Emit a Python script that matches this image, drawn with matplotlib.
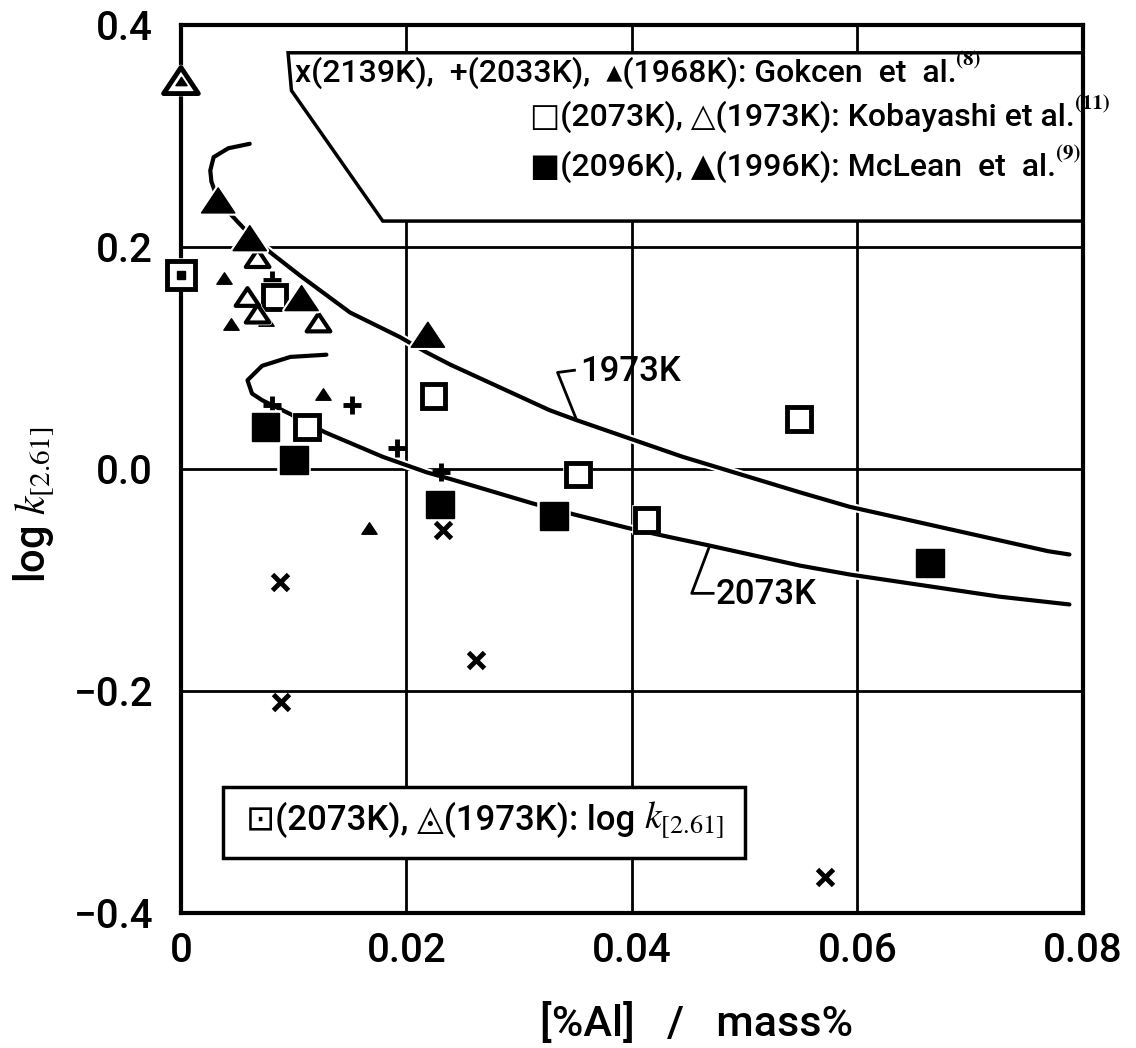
import matplotlib
matplotlib.use('Agg')
import matplotlib.pyplot as plt
import matplotlib.patheffects as pe
from matplotlib.patches import Polygon
from matplotlib.path import Path

plt.rcParams['font.family'] = ['Roboto', 'DejaVu Sans']
plt.rcParams['mathtext.fontset'] = 'stix'

# Gokcen et al.
gok_x_al = [0.0232, 0.0088, 0.0089, 0.0262, 0.0571]
gok_x_logk = [-0.055, -0.102, -0.210, -0.172, -0.368]
gok_plus_al = [0.0081, 0.0081, 0.0152, 0.0192, 0.0231]
gok_plus_logk = [0.170, 0.058, 0.058, 0.019, -0.003]
gok_tri_al = [0.0038, 0.0044, 0.0075, 0.0126, 0.0167]
gok_tri_logk = [0.172, 0.131, 0.134, 0.068, -0.053]

# Kobayashi et al.
kob_sq_al = [0.0083, 0.0112, 0.0224, 0.0352, 0.0413, 0.0548]
kob_sq_logk = [0.155, 0.038, 0.066, -0.005, -0.046, 0.045]
kob_tri_al = [0.0068, 0.0059, 0.0068, 0.0122]
kob_tri_logk = [0.190, 0.155, 0.140, 0.132]

# McLean et al.
mcl_sq_al = [0.0075, 0.0100, 0.0230, 0.0331, 0.0664]
mcl_sq_logk = [0.038, 0.008, -0.032, -0.042, -0.085]
mcl_tri_al = [0.0033, 0.0061, 0.0107, 0.0219]
mcl_tri_logk = [0.242, 0.208, 0.154, 0.121]

# log k[2.61] at [%Al] = 0
lk2073_al = [0.0]
lk2073 = [0.175]
lk1973_al = [0.0]
lk1973 = [0.35]

# calculated curves
c1973_al = [0.0061, 0.0042, 0.0029, 0.0026, 0.0027, 0.0033, 0.0050, 0.0066, 0.0082,
            0.0106, 0.0150, 0.0194, 0.0218, 0.0239, 0.0327, 0.0351, 0.0445, 0.0549,
            0.0593, 0.0769, 0.0788]
c1973_logk = [0.293, 0.289, 0.281, 0.269, 0.259, 0.242, 0.223, 0.206, 0.193,
              0.174, 0.141, 0.119, 0.105, 0.094, 0.053, 0.044, 0.011, -0.021,
              -0.034, -0.074, -0.077]
c2073_al = [0.0129, 0.0097, 0.0072, 0.0059, 0.0063, 0.0072, 0.0090, 0.0098, 0.0128,
            0.0179, 0.0218, 0.0239, 0.0312, 0.0349, 0.0396, 0.0432, 0.0469, 0.0549,
            0.0593, 0.0726, 0.0788]
c2073_logk = [0.103, 0.101, 0.093, 0.080, 0.068, 0.062, 0.053, 0.049, 0.033,
              0.011, -0.003, -0.009, -0.031, -0.041, -0.053, -0.061, -0.069, -0.087,
              -0.095, -0.115, -0.122]

x_ticks = [0, 0.02, 0.04, 0.06, 0.08]
x_ticklabels = ['0', '0.02', '0.04', '0.06', '0.08']
y_ticks = [-0.4, -0.2, 0.0, 0.2, 0.4]
y_ticklabels = ['\u22120.4', '\u22120.2', '0.0', '0.2', '0.4']

fig = plt.figure(figsize=(11.36, 10.48), dpi=100)
ax = fig.add_axes([0.1593, 0.1288, 0.794, 0.8473])
ax.set_xlim(0, 0.08)
ax.set_ylim(-0.4, 0.4)

for s in ax.spines.values():
    s.set_linewidth(3)
    s.set_zorder(2.5)

# grid lines drawn by hand so boxes can cover them
for xv in x_ticks[1:-1]:
    ax.axvline(xv, color='black', lw=2, zorder=1)
for yv in y_ticks[1:-1]:
    ax.axhline(yv, color='black', lw=2, zorder=1)

halo = [pe.Stroke(linewidth=6, foreground='white'), pe.Normal()]
mhalo = [pe.Stroke(linewidth=4, foreground='white'), pe.Normal()]

ax.plot(c1973_al, c1973_logk, color='black', lw=3, zorder=3, path_effects=halo,
        solid_capstyle='round', solid_joinstyle='round')
ax.plot(c2073_al, c2073_logk, color='black', lw=3, zorder=3, path_effects=halo,
        solid_capstyle='round', solid_joinstyle='round')

# slightly flattened triangle marker
tri = Path([(-1, -0.75), (1, -0.75), (0, 0.75), (-1, -0.75)],
           [Path.MOVETO, Path.LINETO, Path.LINETO, Path.CLOSEPOLY])

ax.plot(gok_x_al, gok_x_logk, 'x', color='black', ms=11, mew=3.5, zorder=4)
ax.plot(gok_plus_al, gok_plus_logk, '+', color='black', ms=13, mew=3.5, zorder=4)
ax.plot(gok_tri_al, gok_tri_logk, marker=tri, ls='none', color='black', ms=11,
        mew=1, zorder=4)
ax.plot(kob_sq_al, kob_sq_logk, 's', mfc='white', mec='black', ms=17, mew=3.5,
        zorder=4, path_effects=mhalo)
ax.plot(kob_tri_al, kob_tri_logk, marker=tri, ls='none', mfc='white', mec='black',
        ms=17, mew=3, zorder=4, path_effects=mhalo)
ax.plot(mcl_sq_al, mcl_sq_logk, 's', color='black', ms=20, mew=1, zorder=4,
        path_effects=mhalo)
ax.plot(mcl_tri_al, mcl_tri_logk, marker=tri, ls='none', color='black', ms=24,
        mew=1, zorder=4, path_effects=mhalo)

ax.plot(lk2073_al, lk2073, 's', mfc='white', mec='black', ms=20, mew=3.5,
        zorder=6, clip_on=False, path_effects=mhalo)
ax.plot(lk2073_al, lk2073, 's', color='black', ms=6, zorder=7, clip_on=False)
ax.plot(lk1973_al, lk1973, marker=tri, ls='none', mfc='white', mec='black', ms=25,
        mew=3.5, zorder=6, clip_on=False, path_effects=mhalo)
ax.plot(lk1973_al, lk1973, marker=tri, ls='none', color='black', ms=8, zorder=7,
        clip_on=False)

# curve labels with leader lines
ax.plot([0.0351, 0.0334, 0.0349], [0.044, 0.087, 0.089], color='black', lw=2, zorder=3)
ax.text(0.0354, 0.088, '1973K', fontsize=25, fontweight='medium', va='center',
        ha='left', zorder=5)
ax.plot([0.0469, 0.0453, 0.0472], [-0.069, -0.112, -0.112], color='black', lw=2,
        zorder=3)
ax.text(0.0474, -0.113, '2073K', fontsize=25, fontweight='medium', va='center',
        ha='left', zorder=5)

# upper legend box
box = Polygon([(0.0095, 0.375), (0.08, 0.375), (0.08, 0.2234), (0.0179, 0.2234),
               (0.0098, 0.341)], closed=True, facecolor='white', edgecolor='black',
              lw=2.5, zorder=2)
ax.add_patch(box)
legend_lines = [
    (0.0101, 0.357, 'x(2139K),  +(2033K),  \u25b4(1968K): Gokcen  et  al.', '(8)'),
    (0.0310, 0.317, '\u25a1(2073K), \u25b3(1973K): Kobayashi et al.', '(11)'),
    (0.0310, 0.272, '\u25a0(2096K), \u25b2(1996K): McLean  et  al.', '(9)'),
]
for lx, ly, txt, ref in legend_lines:
    t = ax.text(lx, ly, txt, fontsize=23, fontweight='medium', va='center',
                ha='left', zorder=5)
    ax.annotate(ref, xy=(1.0, 0.9), xycoords=t, fontsize=15, family='STIXGeneral',
                fontweight='bold', va='center', ha='left', zorder=5)

# lower legend box
box2 = Polygon([(0.0037, -0.2865), (0.0500, -0.2865), (0.0500, -0.350),
                (0.0037, -0.350)], closed=True, facecolor='white',
               edgecolor='black', lw=2.5, zorder=2)
ax.add_patch(box2)
t2 = ax.text(0.0058, -0.316, '\u22a1(2073K), \u25ec(1973K): log ', fontsize=25,
             fontweight='medium', va='center', ha='left', zorder=5)
ax.annotate('$k_{[2.61]}$', xy=(1.0, 0.5), xycoords=t2, fontsize=27,
            va='center', ha='left', zorder=5)

ax.set_xticks(x_ticks)
ax.set_xticklabels(x_ticklabels, fontsize=29, fontweight='medium')
ax.set_yticks(y_ticks)
ax.set_yticklabels(y_ticklabels, fontsize=29, fontweight='medium')
ax.tick_params(axis='both', length=0)
ax.tick_params(axis='x', pad=14)
ax.tick_params(axis='y', pad=20)

ax.set_xlabel('[%Al]   /   mass%', fontsize=31, fontweight='medium')
ax.xaxis.set_label_coords(0.572, -0.101)
ax.set_ylabel('log $k_{[2.61]}$', fontsize=30, fontweight='medium')
ax.yaxis.set_label_coords(-0.14, 0.46)

fig.savefig('out.png', dpi=100, facecolor='white')
